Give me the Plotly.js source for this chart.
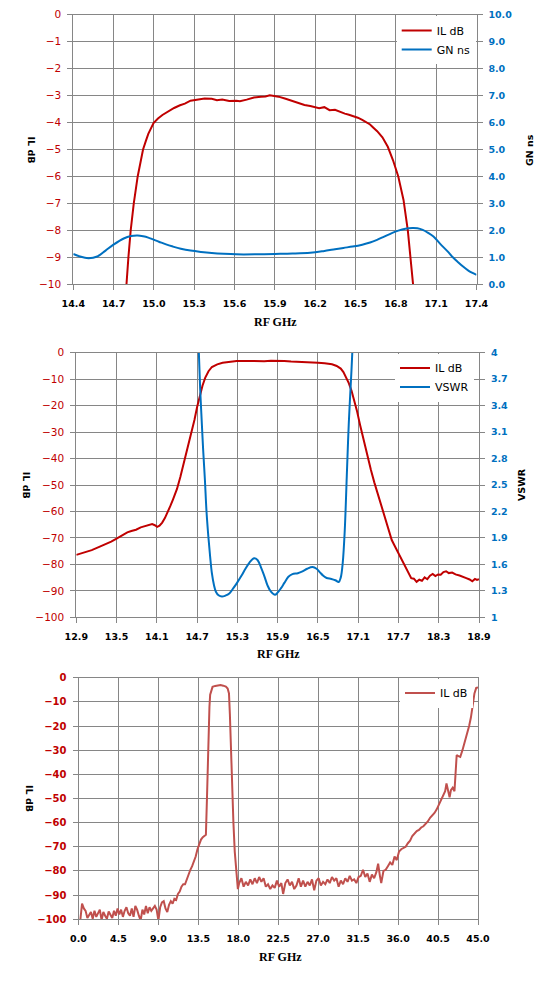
<!DOCTYPE html>
<html>
<head>
<meta charset="utf-8">
<script src="https://cdn.plot.ly/plotly-3.0.1.min.js"></script>
<style>html,body{margin:0;padding:0;background:#fff;}#chart{width:553px;height:982px;}</style>
</head>
<body>
<div id="chart"></div>
<script>
// ---------- Chart 1: IL dB & GN ns, 14.4 - 17.4 GHz ----------
const c1IlFreq = [14.76,14.793,14.81,14.827,14.85,14.879,14.9,14.919,14.94,14.958,14.997,15.03,15.063,15.115,15.15,15.194,15.23,15.272,15.325,15.377,15.43,15.469,15.508,15.56,15.613,15.64,15.69,15.744,15.796,15.83,15.862,15.9,15.927,15.98,16.032,16.085,16.12,16.163,16.2,16.229,16.268,16.307,16.347,16.386,16.42,16.451,16.49,16.517,16.55,16.582,16.608,16.635,16.661,16.7,16.74,16.779,16.818,16.857,16.889,16.928,16.95];
const c1Il = [-12.5,-10.0,-9.0,-8.0,-7.0,-6.0,-5.45,-5.0,-4.68,-4.42,-4.02,-3.85,-3.72,-3.55,-3.46,-3.36,-3.30,-3.19,-3.16,-3.11,-3.12,-3.17,-3.15,-3.20,-3.19,-3.21,-3.15,-3.07,-3.04,-3.03,-2.99,-3.01,-3.04,-3.12,-3.20,-3.30,-3.35,-3.39,-3.42,-3.47,-3.43,-3.54,-3.53,-3.61,-3.67,-3.71,-3.77,-3.82,-3.90,-4.00,-4.07,-4.20,-4.32,-4.55,-4.90,-5.40,-6.00,-6.87,-8.00,-10.0,-11.5];
const c1GnFreq = [14.4,14.45,14.513,14.578,14.64,14.696,14.775,14.83,14.879,14.92,14.958,15.037,15.09,15.141,15.2,15.272,15.35,15.43,15.52,15.613,15.75,15.9,16.03,16.163,16.26,16.347,16.41,16.478,16.55,16.608,16.66,16.713,16.77,16.818,16.87,16.923,16.96,17.0,17.04,17.08,17.13,17.185,17.22,17.263,17.3,17.342,17.37,17.4];
const c1Gn = [1.125,1.03,0.97,1.03,1.25,1.46,1.70,1.79,1.81,1.78,1.73,1.58,1.48,1.40,1.32,1.25,1.20,1.16,1.13,1.11,1.11,1.125,1.14,1.17,1.23,1.30,1.35,1.40,1.47,1.55,1.65,1.77,1.90,1.99,2.06,2.09,2.08,2.02,1.91,1.77,1.50,1.22,1.02,0.82,0.66,0.50,0.42,0.35];

// ---------- Chart 2: IL dB & VSWR, 12.9 - 18.9 GHz ----------
const c2IlFreq = [12.9,13.0,13.13,13.25,13.34,13.42,13.5,13.58,13.66,13.72,13.79,13.86,13.92,13.98,14.03,14.07,14.105,14.14,14.18,14.22,14.26,14.3,14.34,14.4,14.45,14.5,14.55,14.6,14.66,14.7,14.74,14.78,14.82,14.87,14.92,15.0,15.08,15.18,15.29,15.4,15.5,15.6,15.7,15.8,15.92,16.0,16.1,16.24,16.38,16.5,16.6,16.71,16.78,16.84,16.88,16.92,16.96,17.0,17.04,17.08,17.13,17.18,17.23,17.29,17.34,17.39,17.45,17.5,17.55,17.6,17.66,17.71,17.76,17.82,17.86,17.89,17.93,17.97,18.01,18.05,18.09,18.13,18.17,18.21,18.25,18.29,18.33,18.37,18.41,18.45,18.5,18.55,18.61,18.66,18.71,18.76,18.8,18.84,18.87,18.9];
const c2Il = [-76.4,-75.7,-74.6,-73.3,-72.4,-71.4,-70.3,-69.1,-67.9,-67.4,-66.9,-66.0,-65.5,-65.0,-64.8,-65.2,-65.8,-65.4,-64.2,-62.5,-60.5,-58.0,-55.5,-51.5,-47.0,-42.0,-36.8,-31.5,-25.4,-20.5,-16.2,-12.5,-9.5,-7.0,-5.4,-4.4,-3.8,-3.4,-3.1,-3.1,-3.2,-3.3,-3.2,-3.0,-2.9,-3.1,-3.3,-3.4,-3.6,-3.8,-4.0,-4.4,-5.0,-6.0,-7.3,-9.2,-11.5,-14.3,-17.8,-21.8,-27.5,-33.0,-38.5,-44.3,-49.0,-53.2,-58.5,-63.0,-67.2,-70.8,-73.8,-76.3,-79.0,-82.0,-84.2,-85.2,-85.4,-86.6,-85.8,-86.2,-84.9,-85.6,-84.3,-83.6,-84.4,-83.8,-83.9,-82.9,-82.6,-83.3,-83.1,-83.8,-84.2,-84.6,-85.2,-85.7,-86.4,-85.5,-85.9,-85.6];
const c2VswrFreq = [14.71,14.726,14.745,14.763,14.79,14.816,14.84,14.868,14.895,14.92,14.95,14.98,15.02,15.07,15.12,15.18,15.24,15.29,15.36,15.42,15.48,15.55,15.6,15.65,15.7,15.75,15.8,15.86,15.9,15.95,16.0,16.06,16.12,16.2,16.27,16.34,16.42,16.48,16.53,16.58,16.63,16.7,16.76,16.81,16.84,16.87,16.9,16.93,16.96,17.0,17.03];
const c2Vswr = [4.5,4.0,3.6,3.31,2.9,2.56,2.2,1.91,1.68,1.50,1.37,1.29,1.25,1.235,1.245,1.27,1.33,1.385,1.47,1.55,1.62,1.67,1.65,1.57,1.47,1.36,1.29,1.255,1.28,1.33,1.39,1.46,1.49,1.50,1.52,1.55,1.57,1.55,1.51,1.47,1.445,1.435,1.42,1.40,1.45,1.62,1.99,2.6,3.2,3.8,4.3];

// ---------- Chart 3: IL dB wideband, 0 - 45 GHz ----------
const c3Freq = [0.2,0.4,0.6,0.8,1.0,1.2,1.4,1.6,1.8,2.0,2.2,2.4,2.6,2.8,3.0,3.2,3.4,3.6,3.8,4.0,4.2,4.4,4.6,4.8,5.0,5.2,5.4,5.6,5.8,6.0,6.2,6.4,6.6,6.8,7.0,7.2,7.4,7.6,7.8,8.0,8.2,8.4,8.6,8.8,9.0,9.2,9.4,9.6,9.8,10.0,10.2,10.4,10.6,10.8,11.0,11.2,11.4,11.6,11.8,12.0,12.2,12.4,12.6,12.8,13.0,13.2,13.4,13.6,13.8,14.0,14.2,14.35,14.47,14.55,14.63,14.75,14.83,14.95,15.1,15.4,15.7,16.0,16.3,16.6,16.8,16.95,17.05,17.15,17.3,17.45,17.6,17.8,17.95,18.1,18.35,18.6,18.85,19.1,19.35,19.6,19.85,20.1,20.35,20.6,20.85,21.1,21.35,21.6,21.85,22.1,22.35,22.6,22.85,23.05,23.3,23.55,23.8,24.05,24.3,24.55,24.8,25.05,25.3,25.55,25.8,26.05,26.3,26.55,26.8,27.05,27.3,27.55,27.8,28.05,28.3,28.55,28.8,29.05,29.3,29.55,29.8,30.05,30.3,30.55,30.8,31.05,31.3,31.55,31.8,32.05,32.3,32.55,32.8,33.05,33.3,33.55,33.75,33.95,34.1,34.35,34.6,34.85,35.1,35.35,35.6,35.85,36.1,36.35,36.6,36.85,37.1,37.35,37.6,37.85,38.1,38.35,38.6,38.85,39.1,39.35,39.6,39.85,40.1,40.35,40.6,40.85,41.1,41.3,41.45,41.6,41.8,41.95,42.15,42.35,42.5,42.6,42.8,43.0,43.25,43.5,43.75,44.0,44.2,44.4,44.6,44.8,45.0];
const c3Il = [-100.5,-93.5,-95.5,-96.5,-99.5,-98,-97,-99.8,-96.5,-99,-97.5,-96,-100.3,-97,-98.5,-99.8,-96.8,-98,-99.5,-96.5,-98.5,-95.5,-98,-96,-99,-96.5,-95,-97.5,-98.5,-95.5,-99,-94.5,-96,-98.5,-100.5,-96,-98,-94.5,-97.5,-95,-96.5,-95.5,-94.5,-96,-100.5,-95,-93,-92.5,-95.5,-97,-94,-92.5,-93.5,-91.5,-92,-89.5,-88.5,-86.5,-85.5,-85.5,-83.5,-81,-79.5,-78,-76,-74,-71,-68.5,-67,-66,-65.5,-65,-50,-36,-22,-12,-7,-5.1,-3.8,-3.4,-3.2,-3.0,-3.3,-3.7,-4.5,-6.5,-15,-28,-45,-60,-72,-82,-87.5,-85,-83,-86.5,-84.5,-86,-83.5,-85.5,-83,-85,-82.5,-84.5,-83,-86.5,-85.5,-87.5,-86,-87,-84,-86.5,-85,-89.5,-85,-83.5,-86,-84.5,-87.5,-86,-83,-86.5,-84,-86.5,-84.5,-86,-83.5,-88,-84,-83,-86,-84.5,-85.5,-83.5,-85,-82.5,-84,-83,-86.5,-84,-85.5,-83,-84.5,-82,-84,-83.5,-85,-82.5,-82,-79.5,-82.5,-81,-84.5,-81.5,-83,-80.5,-77,-82,-85,-80,-79.5,-78,-76.5,-77.5,-74,-75.5,-72,-71,-70.5,-70,-68.5,-67.5,-65.5,-64.5,-63.5,-63,-62,-61.5,-60.5,-59.5,-58,-57,-56,-54.5,-52.5,-51,-49,-47,-43.8,-47,-49.5,-46.5,-45.5,-47,-40,-32,-32.5,-32.8,-30,-27,-24,-20,-16.5,-11,-6.5,-4.2,-4.0];

const RED = '#c00000', BLUE = '#0070c0', RED3 = '#c0504d', GRID = '#868686';
const W = 553, H = 982;
const px = v => v / W, py = v => 1 - v / H;
const SANS = 'DejaVu Sans, Verdana, sans-serif';
const SERIF = 'Liberation Serif, Times New Roman, serif';

const traces = [
  {x: c1IlFreq, y: c1Il, name: 'IL dB', type: 'scatter', mode: 'lines', line: {color: RED, width: 2}, xaxis: 'x', yaxis: 'y', legend: 'legend'},
  {x: c1GnFreq, y: c1Gn, name: 'GN ns', type: 'scatter', mode: 'lines', line: {color: BLUE, width: 2, shape: 'spline'}, xaxis: 'x', yaxis: 'y2', legend: 'legend'},
  {x: c2IlFreq, y: c2Il, name: 'IL dB', type: 'scatter', mode: 'lines', line: {color: RED, width: 2}, xaxis: 'x2', yaxis: 'y3', legend: 'legend2'},
  {x: c2VswrFreq, y: c2Vswr, name: 'VSWR', type: 'scatter', mode: 'lines', line: {color: BLUE, width: 2, shape: 'spline'}, xaxis: 'x2', yaxis: 'y4', legend: 'legend2'},
  {x: c3Freq, y: c3Il, name: 'IL dB', type: 'scatter', mode: 'lines', line: {color: RED3, width: 2}, xaxis: 'x3', yaxis: 'y5', legend: 'legend3'}
];

function xAxis(domain, range, tick0, dtick, anchor) {
  return {domain: domain, range: range, tick0: tick0, dtick: dtick, tickformat: '.1f', anchor: anchor,
    showgrid: true, gridcolor: GRID, gridwidth: 1, zeroline: false, showline: true, linecolor: GRID, linewidth: 1, mirror: true,
    ticks: 'outside', ticklen: 5, tickcolor: GRID, ticklabelstandoff: 5,
    tickfont: {family: SANS, size: 9.5, color: '#000', weight: 'bold'}, fixedrange: true};
}
function yLeft(domain, range, dtick, anchor, bold) {
  return {domain: domain, range: range, dtick: dtick, anchor: anchor,
    showgrid: true, gridcolor: GRID, gridwidth: 1, zeroline: false, showline: true, linecolor: GRID, linewidth: 1,
    ticks: 'outside', ticklen: 5, tickcolor: GRID, ticklabelstandoff: 4,
    tickfont: {family: SANS, size: bold ? 10 : 10.5, color: RED, weight: bold ? 'bold' : 'normal'}, fixedrange: true};
}
function yRight(overlay, range, tick0, dtick, fmt, anchor) {
  return {overlaying: overlay, side: 'right', range: range, tick0: tick0, dtick: dtick, tickformat: fmt, anchor: anchor,
    showgrid: false, zeroline: false, showline: true, linecolor: GRID, linewidth: 1,
    ticks: 'outside', ticklen: 5, tickcolor: GRID, ticklabelstandoff: 4,
    tickfont: {family: SANS, size: 9.5, color: BLUE, weight: 'bold'}, fixedrange: true};
}
function legendAt(xLeft, yTop) {
  return {x: px(xLeft), y: py(yTop), xanchor: 'left', yanchor: 'top', bgcolor: '#ffffff', borderwidth: 0,
    traceorder: 'normal', font: {family: SANS, size: 11, color: '#000'}};
}
function title(text, x, y, angle, serif) {
  return {text: text, x: px(x), y: py(y), xref: 'paper', yref: 'paper', showarrow: false, textangle: angle,
    xanchor: 'center', yanchor: 'middle',
    font: serif ? {family: SERIF, size: 12, color: '#000', weight: 'bold'} : {family: SANS, size: 9.5, color: '#000', weight: 'bold'}};
}

const layout = {
  width: W, height: H, autosize: false,
  margin: {l: 0, r: 0, t: 0, b: 0, pad: 0},
  paper_bgcolor: '#fff', plot_bgcolor: '#fff',
  showlegend: true,
  xaxis: xAxis([px(73.3), px(476.5)], [14.4, 17.4], 14.4, 0.3, 'y'),
  yaxis: yLeft([py(284.3), py(14.7)], [-10, 0], 1, 'x', false),
  yaxis2: yRight('y', [0, 10], 0, 1, '.1f', 'x'),
  xaxis2: xAxis([px(76.3), px(479)], [12.9, 18.9], 12.9, 0.6, 'y3'),
  yaxis3: yLeft([py(617.3), py(352.7)], [-100, 0], 10, 'x2', false),
  yaxis4: yRight('y3', [1, 4], 1, 0.3, '', 'x2'),
  xaxis3: xAxis([px(78.5), px(478)], [0, 45], 0, 4.5, 'y5'),
  yaxis5: Object.assign(yLeft([py(919.3), py(677.7)], [-100, 0], 10, 'x3', true), {mirror: true}),
  legend: legendAt(396.7, 16),
  legend2: legendAt(395, 353.5),
  legend3: legendAt(400, 678.5),
  annotations: [
    title('IL dB', 30.5, 150, 90, false),
    title('GN ns', 530, 150, -90, false),
    title('RF GHz', 275, 322, 0, true),
    title('IL dB', 27.2, 485, 90, false),
    title('VSWR', 521, 485, -90, false),
    title('RF GHz', 278, 654, 0, true),
    title('IL dB', 30, 798, 90, false),
    title('RF GHz', 280, 957, 0, true)
  ]
};

Plotly.newPlot('chart', traces, layout, {staticPlot: true, displayModeBar: false});
</script>
</body>
</html>
